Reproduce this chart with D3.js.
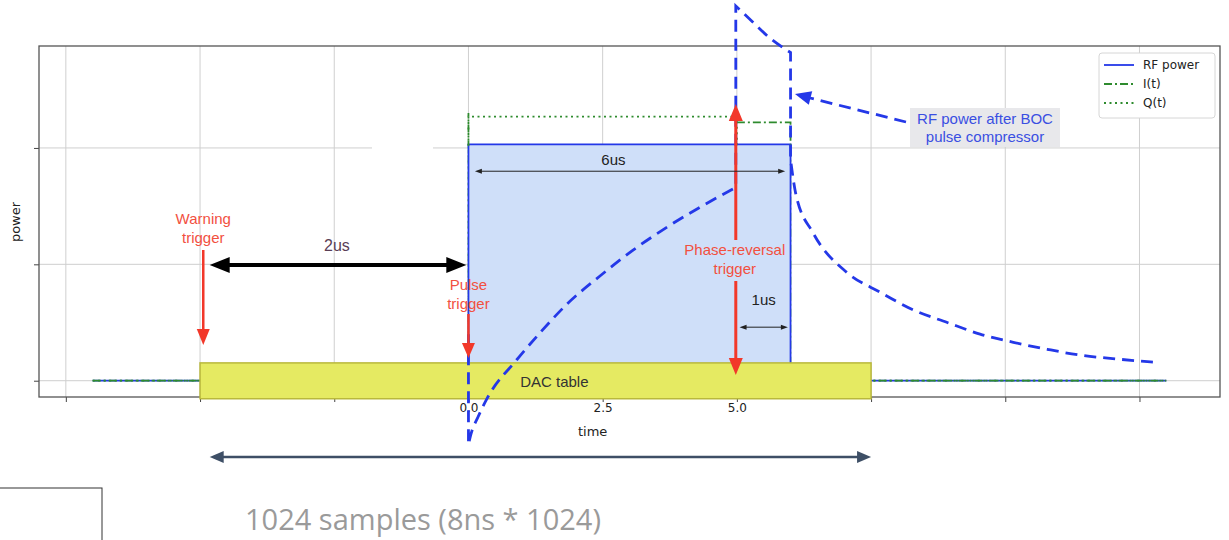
<!DOCTYPE html>
<html>
<head>
<meta charset="utf-8">
<script src="https://cdn.jsdelivr.net/npm/d3@7"></script>
<style>
  body { margin: 0; background: #fff; }
  svg { display: block; }
</style>
</head>
<body>
<svg id="chart"></svg>
<script>
// ---- data ----
const xTicks = [-7.5, -5, -2.5, 0, 2.5, 5, 7.5, 10, 12.5];
const xTickLabels = { "0": "0.0", "2.5": "2.5", "5": "5.0" };
const yTicks = [0, 1, 2];

// RF power (klystron pulse)
const rfT = [-7, 0, 0, 6, 6, 13];
const rfV = [0, 0, 2.03, 2.03, 0, 0];
// I(t) (null = gap)
const iT = [-7, 0, 0, null, 5, 6, 6, 13];
const iV = [0, 0, 2.3, null, 2.22, 2.22, 0, 0];
// Q(t)
const qT = [-7, 0, 0, 5, 5, 13];
const qV = [0, 0, 2.27, 2.27, 0, 0];
// RF power after BOC pulse compressor: three smooth pieces joined by vertical jumps
const bocRiseT = [0, 0.04, 0.18, 0.35, 0.9, 1.33, 1.84, 2.45, 3.06, 3.7, 4.31, 4.98];
const bocRiseV = [-0.55, -0.47, -0.31, -0.15, 0.18, 0.41, 0.66, 0.9, 1.12, 1.32, 1.49, 1.66];
const bocSpikeT = [4.98, 5.3, 5.6, 6.0];
const bocSpikeV = [3.22, 3.08, 2.95, 2.82];
const bocDecayT = [6.0, 6.1, 6.42, 7.05, 7.67, 8.28, 8.92, 9.53, 10.15, 10.78, 11.39, 12.0, 12.75];
const bocDecayV = [1.9, 1.6, 1.27, 0.93, 0.76, 0.61, 0.5, 0.4, 0.33, 0.27, 0.22, 0.19, 0.16];
const bocStartV = 0.4;

const legendNames = ["RF power", "I(t)", "Q(t)"];

const W = 1229, H = 540;
const blue = "#2438e8", green = "#2e8b2e", red = "#f2382a", redText = "#f2503f";

const svg = d3.select("#chart").attr("width", W).attr("height", H);

const x = d3.scaleLinear().domain([-8, 14]).range([39, 1220]);
const y = d3.scaleLinear().domain([-0.14, 2.876]).range([397, 46]);

const pts = (ts, vs) => ts.map((t, i) => t === null ? null : [t, vs[i]]);
const line = d3.line().defined(d => d !== null).x(d => x(d[0])).y(d => y(d[1]));
const smooth = d3.line().curve(d3.curveMonotoneX).x(d => x(d[0])).y(d => y(d[1]));

// ---- grid ----
svg.append("g").selectAll("line").data(xTicks).enter().append("line")
  .attr("x1", d => x(d)).attr("x2", d => x(d))
  .attr("y1", y.range()[1]).attr("y2", y.range()[0])
  .attr("stroke", "#cfcfcf").attr("stroke-width", 1);
svg.append("g").selectAll("line").data(yTicks).enter().append("line")
  .attr("x1", x.range()[0]).attr("x2", x.range()[1])
  .attr("y1", d => y(d)).attr("y2", d => y(d))
  .attr("stroke", "#cfcfcf").attr("stroke-width", 1);
// small blank patch in the upper grid line (as in the original slide)
svg.append("rect").attr("x", 372).attr("y", y(2) - 2).attr("width", 61).attr("height", 4).attr("fill", "#fff");

// ---- axes ----
const xAxis = d3.axisBottom(x).tickValues(xTicks).tickSize(5)
  .tickFormat(d => xTickLabels[String(d)] || "");
const gx = svg.append("g").attr("transform", `translate(0,${y.range()[0]})`).call(xAxis);
gx.select(".domain").remove();
gx.selectAll(".tick line").attr("stroke", "#444");
gx.selectAll("text").attr("font-family", "DejaVu Sans").attr("font-size", 12).attr("fill", "#222").attr("dy", "0.6em");

const yAxis = d3.axisLeft(y).tickValues(yTicks).tickSize(5).tickFormat("");
const gy = svg.append("g").attr("transform", `translate(${x.range()[0]},0)`).call(yAxis);
gy.select(".domain").remove();
gy.selectAll(".tick line").attr("stroke", "#444");

svg.append("rect")
  .attr("x", x.range()[0]).attr("y", y.range()[1])
  .attr("width", x.range()[1] - x.range()[0]).attr("height", y.range()[0] - y.range()[1])
  .attr("fill", "none").attr("stroke", "#555").attr("stroke-width", 1.3);

svg.append("text").attr("x", (x(0) + x(5)) / 2 - 10).attr("y", 436)
  .attr("text-anchor", "middle").attr("font-family", "DejaVu Sans").attr("font-size", 13)
  .attr("fill", "#222").text("time");
svg.append("text").attr("transform", "translate(20,222) rotate(-90)")
  .attr("text-anchor", "middle").attr("font-family", "DejaVu Sans").attr("font-size", 13)
  .attr("fill", "#222").text("power");

// ---- series ----
// the pulse fill hides the green verticals inside the pulse
const px0 = x(rfT[2]) - 1, px1 = x(rfT[3]) + 1, py0 = y(rfV[2]) + 1, py1 = y(0) - 2;
svg.append("clipPath").attr("id", "outside-pulse").append("path")
  .attr("clip-rule", "evenodd")
  .attr("d", `M0,0H${W}V${H}H0Z M${px0},${py0}H${px1}V${py1}H${px0}Z`);

svg.append("rect")
  .attr("x", x(rfT[2])).attr("y", y(rfV[2]))
  .attr("width", x(rfT[3]) - x(rfT[2])).attr("height", y(0) - y(rfV[2]))
  .attr("fill", "#cfdff9");
svg.append("path").attr("d", line(pts(rfT, rfV)))
  .attr("fill", "none").attr("stroke", blue).attr("stroke-width", 1.8);

svg.append("path").attr("d", line(pts(iT, iV))).attr("clip-path", "url(#outside-pulse)")
  .attr("fill", "none").attr("stroke", green).attr("stroke-width", 1.8)
  .attr("stroke-dasharray", "8,3,2,3");
svg.append("path").attr("d", line(pts(qT, qV))).attr("clip-path", "url(#outside-pulse)")
  .attr("fill", "none").attr("stroke", green).attr("stroke-width", 1.8)
  .attr("stroke-dasharray", "2,3.5");

// ---- DAC table ----
const dacT = [-5, 7.5];
svg.append("rect")
  .attr("x", x(dacT[0])).attr("y", y(0.153))
  .attr("width", x(dacT[1]) - x(dacT[0])).attr("height", y(-0.155) - y(0.153))
  .attr("fill", "#e5ea62").attr("stroke", "#b9b83c").attr("stroke-width", 1.5);
svg.append("text").attr("x", x(1.6)).attr("y", y(0) + 6)
  .attr("text-anchor", "middle").attr("font-family", "Liberation Sans").attr("font-size", 15)
  .attr("fill", "#333").text("DAC table");

// ---- BOC curve (one continuous dashed path) ----
const pieces = [pts(bocRiseT, bocRiseV), pts(bocSpikeT, bocSpikeV), pts(bocDecayT, bocDecayV)]
  .map(p => smooth(p).replace(/^M/, "L"));
const bocD = `M${x(0)},${y(bocStartV)}` + pieces.join("");
svg.append("path").attr("d", bocD)
  .attr("fill", "none").attr("stroke", blue).attr("stroke-width", 2.8)
  .attr("stroke-dasharray", "12,7");

// ---- helpers ----
function head(g, tx, ty, ang, len, w, color) {
  const c = Math.cos(ang), s = Math.sin(ang);
  const bx = tx - len * c, by = ty - len * s;
  g.append("path")
    .attr("d", `M${tx},${ty}L${bx - w / 2 * s},${by + w / 2 * c}L${bx + w / 2 * s},${by - w / 2 * c}Z`)
    .attr("fill", color);
}
function seg(g, x1, y1, x2, y2, color, sw, dash) {
  g.append("line").attr("x1", x1).attr("y1", y1).attr("x2", x2).attr("y2", y2)
    .attr("stroke", color).attr("stroke-width", sw).attr("stroke-dasharray", dash || null);
}
function label(g, tx, ty, lines, color, size, family, lh) {
  const t = g.append("text").attr("text-anchor", "middle")
    .attr("font-family", family || "Liberation Sans").attr("font-size", size).attr("fill", color);
  lines.forEach((l, i) => t.append("tspan").attr("x", tx).attr("y", ty + i * (lh || size * 1.2)).text(l));
}

const ann = svg.append("g");

// warning trigger
const tWarn = -4.94, tPulse = 0, tRev = 4.98;
label(ann, x(tWarn), 224, ["Warning", "trigger"], redText, 15, null, 19);
seg(ann, x(tWarn), 250, x(tWarn), 330, red, 2.5);
head(ann, x(tWarn), 345, Math.PI / 2, 16, 13, red);

// 2us arrow
const y2us = y(0.995);
seg(ann, x(-4.82) + 16, y2us, x(-0.04) - 16, y2us, "#000", 4);
head(ann, x(-4.82), y2us, Math.PI, 20, 16, "#000");
head(ann, x(-0.04), y2us, 0, 20, 16, "#000");
label(ann, x(-2.45), 251, ["2us"], "#5a3e55", 16);

// pulse trigger
label(ann, x(tPulse), 290, ["Pulse", "trigger"], redText, 15, null, 19);
seg(ann, x(tPulse), 314, x(tPulse), 345, red, 2.5);
head(ann, x(tPulse), 358, Math.PI / 2, 15, 13, red);

// phase reversal trigger
seg(ann, x(tRev), 118, x(tRev), 240, red, 3);
seg(ann, x(tRev), 281, x(tRev), 360, red, 3);
head(ann, x(tRev), 104, -Math.PI / 2, 17, 14, red);
head(ann, x(tRev), 375, Math.PI / 2, 17, 14, red);
label(ann, x(tRev) - 1, 255, ["Phase-reversal", "trigger"], redText, 15, null, 19);

// 6us
const y6 = y(1.8);
seg(ann, x(0.12) + 6, y6, x(5.9) - 6, y6, "#222", 1);
head(ann, x(0.12), y6, Math.PI, 7, 5, "#222");
head(ann, x(5.9), y6, 0, 7, 5, "#222");
label(ann, x(2.7), 165, ["6us"], "#222", 15);

// 1us
const y1 = y(0.46);
seg(ann, x(5.05) + 6, y1, x(5.95) - 6, y1, "#222", 1);
head(ann, x(5.05), y1, Math.PI, 7, 5, "#222");
head(ann, x(5.95), y1, 0, 7, 5, "#222");
label(ann, x(5.5), 305, ["1us"], "#222", 15);

// BOC annotation
ann.append("rect").attr("x", 910).attr("y", 108).attr("width", 150).attr("height", 39)
  .attr("fill", "#e8e8eb");
label(ann, 985, 124, ["RF power after BOC", "pulse compressor"], "#3a4fe2", 15, null, 18);
seg(ann, 906, 122, 810, 98, blue, 2.8, "12,7");
head(ann, 795, 94, Math.atan2(94 - 122, 795 - 906), 16, 14, blue);

// ---- legend ----
const lg = svg.append("g").attr("transform", "translate(1099,53)");
lg.append("rect").attr("width", 116).attr("height", 65).attr("rx", 3)
  .attr("fill", "#fff").attr("stroke", "#d6d6d6");
const legStyles = [
  { c: blue, d: null }, { c: green, d: "8,3,2,3" }, { c: green, d: "2,3.5" }
];
legendNames.forEach((n, i) => {
  const yy = 12 + i * 19;
  lg.append("line").attr("x1", 5).attr("x2", 35).attr("y1", yy).attr("y2", yy)
    .attr("stroke", legStyles[i].c).attr("stroke-width", 1.8)
    .attr("stroke-dasharray", legStyles[i].d);
  lg.append("text").attr("x", 44).attr("y", yy + 4).attr("font-family", "DejaVu Sans")
    .attr("font-size", 12).attr("fill", "#222").text(n);
});

// ---- bottom: 1024 samples ----
const yb = 457;
seg(svg, x(-4.82) + 12, yb, x(7.5) - 12, yb, "#3e4f66", 2.5);
head(svg, x(-4.82), yb, Math.PI, 14, 12, "#3e4f66");
head(svg, x(7.5), yb, 0, 14, 12, "#3e4f66");
svg.append("text").attr("x", 245).attr("y", 530).attr("font-family", "Open Sans")
  .attr("font-size", 29).attr("fill", "#9a9a9a").text("1024 samples (8ns * 1024)");

svg.append("rect").attr("x", -1).attr("y", 488).attr("width", 103).attr("height", 60)
  .attr("fill", "none").attr("stroke", "#333").attr("stroke-width", 1);
</script>
</body>
</html>
